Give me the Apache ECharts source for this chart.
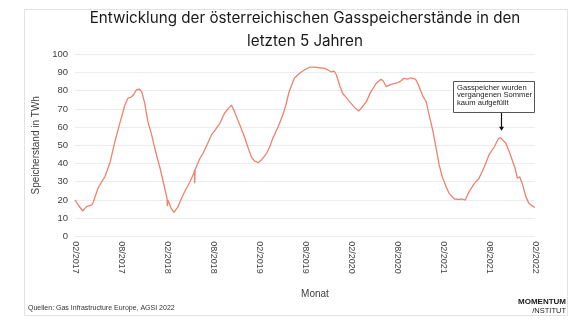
<!DOCTYPE html>
<html>
<head>
<meta charset="utf-8">
<script src="https://cdn.jsdelivr.net/npm/echarts@6/dist/echarts.min.js"></script>
<style>
  html, body { margin: 0; padding: 0; background: #ffffff; }
  #chart { width: 588px; height: 329px; }
</style>
</head>
<body>
<div id="chart"></div>
<script>
// Months since February 2017 (fractional) for each reading
const monthPos = [
  0, 0.43, 1.0, 1.5, 2.2, 2.4, 3.0, 3.5, 3.9, 4.6, 5.2, 5.9, 6.5, 6.9, 7.3, 7.6, 8.0, 8.4, 8.7, 9.1,
  9.5, 10.0, 10.4, 11.1, 11.7, 12.0, 12.05, 12.12, 12.5, 12.9, 13.4, 13.9, 14.3, 15.0, 15.5, 15.6,
  15.62, 15.66, 15.75, 16.3, 16.7, 17.1, 17.8, 18.2, 18.9, 19.5, 19.96, 20.4, 20.8, 21.5, 22.1,
  22.6, 23.0, 23.4, 23.9, 24.3, 25.0, 25.4, 25.8, 26.5, 27.1, 27.5, 27.9, 28.6, 29.3, 29.9, 30.6,
  31.25, 31.9, 32.55, 33.0, 33.4, 33.8, 34.1, 34.5, 34.9, 35.4, 35.8, 36.5, 37.0, 37.5, 38.0, 38.6,
  39.3, 39.9, 40.2, 40.6, 41.2, 41.9, 42.5, 42.9, 43.4, 43.8, 44.4, 44.8, 45.4, 45.8, 46.2, 46.7,
  47.1, 47.5, 47.9, 48.4, 48.8, 49.0, 49.5, 50.1, 50.5, 50.9, 51.4, 52.1, 52.7, 53.4, 54.0, 54.7,
  55.2, 55.5, 55.7, 56.2, 56.8, 57.4, 57.7, 58.0, 58.4, 58.8, 59.2, 59.75, 60
];

// Storage level in TWh
const storageTWh = [
  20, 17.2, 13.9, 16.3, 17.2, 19, 26.4, 30, 32.7, 41, 52, 63, 72, 75.8, 76.4, 77.6, 80.4, 80.8, 79.5, 73,
  63, 55.7, 48.4, 37.4, 26.4, 20.9, 16.5, 20, 15.8, 13.2, 16, 20.9, 24.5, 30, 34.6, 36.5,
  29.1, 36.5, 37.4, 42.9, 45.6, 49.2, 55.7, 57.9, 62.1, 67.6, 70, 72.1, 68.5, 61.2, 54.7,
  48.4, 43.7, 41.4, 40.4, 41.9, 45.6, 49.2, 53.8, 60.2, 66.6, 72, 79, 86.8, 89.6, 91.4, 92.9,
  93, 92.6, 92.3, 91.4, 90.4, 90.8, 88.6, 83.1, 78.6, 76.2, 74, 70.7, 68.8, 71.2, 74, 79.5,
  84.1, 86.3, 85.3, 82.2, 83.5, 84.1, 85.3, 86.8, 86.3, 87.1, 86.4, 83.1, 76.7, 74, 66.6, 57.5,
  48.4, 39.2, 32.7, 27.3, 23.6, 24.2, 20.5, 20.3, 20.5, 19.9, 24.5, 29.1, 31.9, 38.2, 44.7, 49.2,
  53.5, 54.2, 53.8, 51.1, 44.7, 37.4, 31.9, 32.7, 28.2, 21.8, 18.1, 16.3, 16
];

// Axis tick labels, one every six months
const tickLabels = [
  '02/2017', '08/2017', '02/2018', '08/2018', '02/2019', '08/2019',
  '02/2020', '08/2020', '02/2021', '08/2021', '02/2022'
];

// Reading the annotation arrow points at (summer 2021 peak)
const peakMonth = 55.5;
const peakValue = 54.2;

const lineData = monthPos.map((m, i) => [m, storageTWh[i]]);

const chart = echarts.init(document.getElementById('chart'), null, { renderer: 'canvas' });

const axisFont = 'Liberation Sans, Arial, sans-serif';

chart.setOption({
  animation: false,
  backgroundColor: '#ffffff',
  grid: { left: 75, right: 53, top: 54.3, bottom: 92.7, containLabel: false },
  xAxis: {
    type: 'value',
    min: 0,
    max: 60,
    interval: 6,
    axisLine: { show: false },
    axisTick: { show: false },
    splitLine: { show: false },
    axisLabel: {
      rotate: -90,
      margin: 5,
      fontFamily: axisFont,
      fontSize: 9,
      color: '#404040',
      formatter: v => tickLabels[Math.round(v / 6)] || ''
    }
  },
  yAxis: {
    type: 'value',
    min: 0,
    max: 100,
    interval: 10,
    name: 'Speicherstand in TWh',
    nameLocation: 'middle',
    nameGap: 29,
    nameTextStyle: { fontFamily: axisFont, fontSize: 10, color: '#404040' },
    axisLine: { show: false },
    axisTick: { show: false },
    axisLabel: { margin: 7, fontFamily: axisFont, fontSize: 9.5, color: '#404040' },
    splitLine: { lineStyle: { color: '#ececec', width: 1 } }
  },
  series: [{
    type: 'line',
    data: lineData,
    showSymbol: false,
    symbol: 'none',
    lineStyle: { color: '#ee8270', width: 1.3 },
    z: 3
  }]
});

// Frame, titles, annotation and footer drawn around the plot
const peakPx = chart.convertToPixel({ gridIndex: 0 }, [peakMonth, peakValue]);
const arrowX = Math.round(peakPx[0]) + 0.5;
const arrowEnd = peakPx[1] - 7;
const arrowTop = arrowEnd - 19;
const boxW = 81, boxH = 31;
const boxLeft = arrowX - 49;
const boxTop = arrowTop - boxH;

chart.setOption({
  graphic: [
    {
      type: 'rect', silent: true, z: 0,
      shape: { x: 24.5, y: 9.5, width: 543, height: 306 },
      style: { fill: 'none', stroke: '#e2e2e2', lineWidth: 1 }
    },
    {
      type: 'text', z: 10,
      style: {
        x: 305, y: 26, text: 'Entwicklung der österreichischen Gasspeicherstände in den',
        textAlign: 'center', textVerticalAlign: 'bottom',
        font: '15.2px Inter, "Noto Sans", sans-serif', fill: '#1a1a1a'
      }
    },
    {
      type: 'text', z: 10,
      style: {
        x: 305, y: 49, text: 'letzten 5 Jahren',
        textAlign: 'center', textVerticalAlign: 'bottom',
        font: '15.2px Inter, "Noto Sans", sans-serif', fill: '#1a1a1a'
      }
    },
    {
      type: 'text', z: 10,
      style: {
        x: 315, y: 294.5, text: 'Monat',
        textAlign: 'center', textVerticalAlign: 'middle',
        font: '10px "Liberation Sans", Arial, sans-serif', fill: '#404040'
      }
    },
    {
      type: 'text', z: 10,
      style: {
        x: 28, y: 308, text: 'Quellen: Gas Infrastructure Europe, AGSI 2022',
        textAlign: 'left', textVerticalAlign: 'middle',
        font: '7px "Liberation Sans", Arial, sans-serif', fill: '#333333'
      }
    },
    {
      type: 'text', z: 10,
      style: {
        x: 566, y: 302, text: 'MOMENTUM',
        textAlign: 'right', textVerticalAlign: 'middle',
        font: 'bold 8px "Liberation Sans", Arial, sans-serif', fill: '#1a1a1a'
      }
    },
    {
      type: 'text', z: 10,
      style: {
        x: 566, y: 311, text: '/NSTITUT',
        textAlign: 'right', textVerticalAlign: 'middle',
        font: '7.5px "Liberation Sans", Arial, sans-serif', fill: '#1a1a1a'
      }
    },
    {
      type: 'rect', z: 10,
      shape: { x: Math.round(boxLeft) + 0.5, y: Math.round(boxTop) + 0.5, width: boxW, height: boxH },
      style: { fill: '#ffffff', stroke: '#555555', lineWidth: 1 }
    },
    {
      type: 'text', z: 11,
      style: {
        x: Math.round(boxLeft) + 4, y: Math.round(boxTop) + 3,
        text: 'Gasspeicher wurden\nvergangenen Sommer\nkaum aufgefüllt',
        textAlign: 'left', textVerticalAlign: 'top',
        font: '7.6px "Liberation Sans", Arial, sans-serif', lineHeight: 7.6, fill: '#222222'
      }
    },
    {
      type: 'line', z: 10,
      shape: { x1: arrowX, y1: Math.round(boxTop) + boxH + 1, x2: arrowX, y2: arrowEnd - 3 },
      style: { stroke: '#111111', lineWidth: 1.2 }
    },
    {
      type: 'polygon', z: 10,
      shape: { points: [[arrowX - 2.5, arrowEnd - 4], [arrowX + 2.5, arrowEnd - 4], [arrowX, arrowEnd]] },
      style: { fill: '#111111' }
    }
  ]
});
</script>
</body>
</html>
